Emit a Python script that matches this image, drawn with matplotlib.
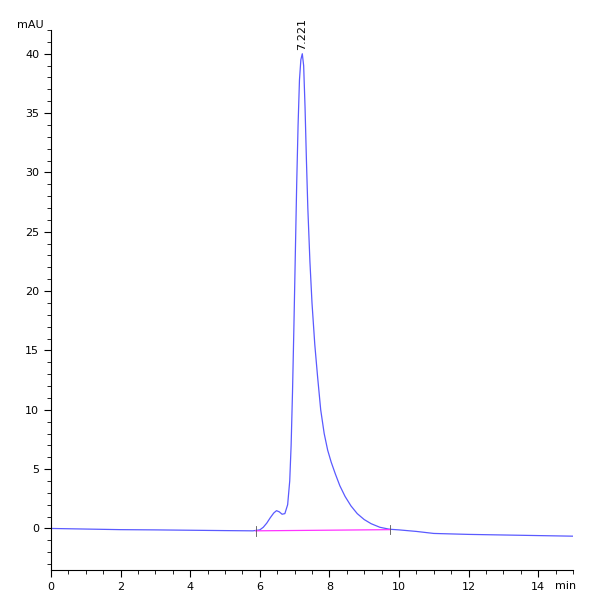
import matplotlib
matplotlib.use("Agg")
import matplotlib.pyplot as plt
from matplotlib.ticker import MultipleLocator

# chromatogram trace (min, mAU)
time_min = [0, 1, 2, 3, 4, 5, 5.8, 6.0, 6.1, 6.2, 6.3, 6.4, 6.48, 6.56, 6.64, 6.72,
            6.8, 6.86, 6.9, 6.94, 6.98, 7.02, 7.06, 7.1, 7.14, 7.18, 7.221, 7.26,
            7.3, 7.34, 7.38, 7.44, 7.5, 7.58, 7.66, 7.75, 7.85, 7.95, 8.05, 8.17,
            8.3, 8.45, 8.62, 8.8, 9.0, 9.2, 9.45, 9.7, 9.8, 10.0, 10.5, 11, 12, 13,
            14, 15]
signal = [0.0, -0.05, -0.1, -0.12, -0.15, -0.18, -0.2, -0.12, 0.1, 0.45, 0.9, 1.3,
          1.5, 1.4, 1.2, 1.25, 2.0, 4.0, 7.0, 11.5, 17.0, 23.0, 29.0, 34.0, 37.8,
          39.5, 40.0, 39.0, 35.5, 31.0, 27.0, 22.5, 19.0, 15.5, 12.8, 10.0, 8.0,
          6.6, 5.6, 4.6, 3.6, 2.7, 1.9, 1.25, 0.75, 0.4, 0.1, -0.05, -0.08, -0.12,
          -0.25, -0.42, -0.5, -0.55, -0.6, -0.65]
base_start = (5.88, -0.2)
base_end = (9.75, -0.1)
peak_rt = 7.221
peak_height = 40.0

fig, ax = plt.subplots(figsize=(6, 6), dpi=100)
fig.subplots_adjust(left=0.085, right=0.955, top=0.95, bottom=0.05)

ax.plot(time_min, signal, color="#5a5aff", lw=0.9)
ax.plot([base_start[0], base_end[0]], [base_start[1], base_end[1]], color="#ff33ff", lw=0.9)
for bx, by in (base_start, base_end):
    ax.plot([bx, bx], [by - 0.4, by + 0.4], color="#555555", lw=0.6)

ax.text(peak_rt, peak_height + 0.3, f"{peak_rt:.3f}", rotation=90, ha="center",
        va="bottom", fontsize=8)

ax.set_xlim(0, 15)
ax.set_ylim(-3.5, 42)
ax.xaxis.set_major_locator(MultipleLocator(2))
ax.xaxis.set_minor_locator(MultipleLocator(0.5))
ax.yaxis.set_major_locator(MultipleLocator(5))
ax.yaxis.set_minor_locator(MultipleLocator(1))
ax.tick_params(labelsize=8, length=5)
ax.tick_params(which="minor", length=3)
ax.spines["top"].set_visible(False)
ax.spines["right"].set_visible(False)
ax.text(-0.04, 1.0, "mAU", transform=ax.transAxes, fontsize=8, ha="center", va="bottom")
ax.text(0.985, -0.02, "min", transform=ax.transAxes, fontsize=8, ha="center", va="top")

fig.savefig("out.png")
